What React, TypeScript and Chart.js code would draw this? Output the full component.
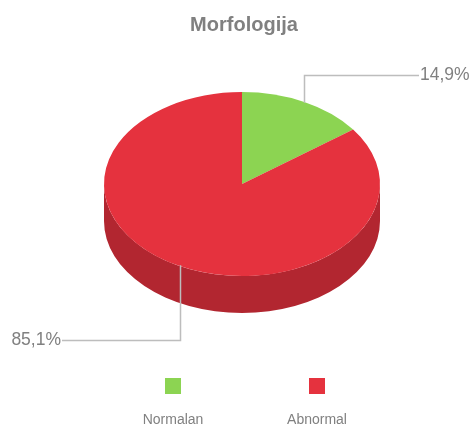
import React, { useEffect, useRef } from 'react';
import { Chart, registerables } from 'chart.js';

Chart.register(...registerables);

const titleText = 'Morfologija';
const categories = ['Normalan', 'Abnormal'];
const values = [14.9, 85.1];
const topColors = ['#8cd452', '#e5323e'];
const sideColors = ['#6fa83f', '#b22630'];

const W = 472;
const H = 426;
const TILT = 92 / 138;
const DEPTH = 37;
const FONT = '"Liberation Sans", Arial, Helvetica, sans-serif';
const TEXT_COLOR = '#808080';
const LINE_COLOR = '#bdbdbd';

const fmtPct = (v: number, total: number) =>
  ((v / total) * 100).toFixed(1).replace('.', ',') + '%';

const pie3dPlugin = {
  id: 'pie3d',
  beforeDatasetsDraw(chart: any) {
    const ctx = chart.ctx as CanvasRenderingContext2D;
    const meta = chart.getDatasetMeta(0);
    let cy = 0;
    meta.data.forEach((arc: any, i: number) => {
      const p = arc.getProps(['x', 'y', 'startAngle', 'endAngle', 'outerRadius'], true);
      cy = p.y;
      const rx = p.outerRadius;
      const ry = rx * TILT;
      for (const shift of [-2 * Math.PI, 0, 2 * Math.PI]) {
        const a = Math.max(p.startAngle + shift, 0);
        const b = Math.min(p.endAngle + shift, Math.PI);
        if (b > a) {
          ctx.save();
          ctx.beginPath();
          ctx.ellipse(p.x, p.y, rx, ry, 0, a, b, false);
          ctx.ellipse(p.x, p.y + DEPTH, rx, ry, 0, b, a, true);
          ctx.closePath();
          ctx.fillStyle = sideColors[i];
          ctx.fill();
          ctx.restore();
        }
      }
    });
    ctx.save();
    ctx.translate(0, cy);
    ctx.scale(1, TILT);
    ctx.translate(0, -cy);
  },
  afterDatasetsDraw(chart: any) {
    chart.ctx.restore();
  },
};

const decorPlugin = {
  id: 'decor',
  afterDraw(chart: any) {
    const ctx = chart.ctx as CanvasRenderingContext2D;
    const meta = chart.getDatasetMeta(0);
    const data = chart.data.datasets[0].data as number[];
    const total = data.reduce((s, v) => s + v, 0);

    // title
    ctx.save();
    ctx.fillStyle = TEXT_COLOR;
    ctx.font = `bold 20px ${FONT}`;
    ctx.textAlign = 'center';
    ctx.textBaseline = 'alphabetic';
    ctx.fillText(titleText, 244, 31);
    ctx.restore();

    // data labels with connectors
    meta.data.forEach((arc: any, i: number) => {
      const p = arc.getProps(['x', 'y', 'startAngle', 'endAngle', 'outerRadius'], true);
      const mid = (p.startAngle + p.endAngle) / 2;
      const ax = p.x + Math.cos(mid) * p.outerRadius * 0.99;
      const ay = p.y + Math.sin(mid) * p.outerRadius * TILT * 0.99;
      const right = ax >= p.x;
      const ly = right ? 75.5 : 340.5;
      const lx = right ? 419 : 62;
      ctx.save();
      ctx.strokeStyle = LINE_COLOR;
      ctx.lineWidth = 1.5;
      ctx.beginPath();
      ctx.moveTo(Math.round(ax) + 0.5, ay);
      ctx.lineTo(Math.round(ax) + 0.5, ly);
      ctx.lineTo(lx, ly);
      ctx.stroke();
      ctx.fillStyle = TEXT_COLOR;
      ctx.font = `17.5px ${FONT}`;
      ctx.textBaseline = 'middle';
      ctx.textAlign = right ? 'left' : 'right';
      ctx.fillText(fmtPct(data[i], total), right ? lx + 1 : lx - 1, ly);
      ctx.restore();
    });

    // legend
    const labels = chart.data.labels as string[];
    const spacing = 144;
    const startX = 245 - ((labels.length - 1) * spacing) / 2;
    labels.forEach((lab, i) => {
      const cx = startX + i * spacing;
      ctx.save();
      ctx.fillStyle = topColors[i];
      ctx.fillRect(Math.round(cx - 8), 378, 16, 16);
      ctx.fillStyle = TEXT_COLOR;
      ctx.font = `14px ${FONT}`;
      ctx.textAlign = 'center';
      ctx.textBaseline = 'alphabetic';
      ctx.fillText(lab, cx, 424);
      ctx.restore();
    });
  },
};

export default function App() {
  const ref = useRef<HTMLCanvasElement | null>(null);
  useEffect(() => {
    document.body.style.margin = '0';
    const canvas = ref.current;
    if (!canvas) return;
    const chart = new Chart(canvas, {
      type: 'pie',
      data: {
        labels: categories,
        datasets: [
          {
            data: values,
            backgroundColor: topColors,
            borderWidth: 0,
            hoverOffset: 0,
          },
        ],
      },
      options: {
        responsive: false,
        animation: false,
        events: [],
        layout: { padding: { left: 104, right: 92, top: 46, bottom: 104 } },
        plugins: {
          legend: { display: false },
          tooltip: { enabled: false },
          title: { display: false },
        },
      },
      plugins: [pie3dPlugin, decorPlugin],
    });
    return () => chart.destroy();
  }, []);
  return (
    <div style={{ width: W, height: H, background: '#fff' }}>
      <canvas ref={ref} width={W} height={H} style={{ display: 'block' }} />
    </div>
  );
}
